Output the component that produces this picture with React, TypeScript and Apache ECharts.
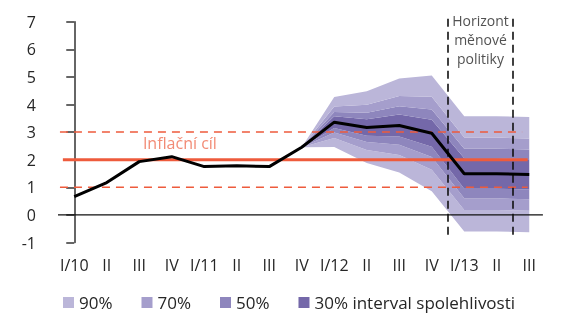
import React, { useEffect, useRef } from "react";
import * as echarts from "echarts";

const categories = ["I/10", "II", "III", "IV", "I/11", "II", "III", "IV", "I/12", "II", "III", "IV", "I/13", "II", "III"];
const inflation = [0.66, 1.17, 1.93, 2.11, 1.75, 1.78, 1.75, 2.45, 3.36, 3.17, 3.24, 2.96, 1.49, 1.49, 1.46];

const N = null;
const lower90 = [N, N, N, N, N, N, N, 2.45, 2.46, 1.88, 1.54, 0.86, -0.6, -0.6, -0.63];
const lower70 = [N, N, N, N, N, N, N, 2.45, 2.79, 2.35, 2.17, 1.64, 0.18, 0.18, 0.15];
const lower50 = [N, N, N, N, N, N, N, 2.45, 2.99, 2.64, 2.54, 2.1, 0.6, 0.6, 0.57];
const lower30 = [N, N, N, N, N, N, N, 2.45, 3.15, 2.87, 2.84, 2.47, 0.95, 0.95, 0.92];
const upper30 = [N, N, N, N, N, N, N, 2.45, 3.57, 3.47, 3.64, 3.45, 2.05, 2.05, 2.02];
const upper50 = [N, N, N, N, N, N, N, 2.45, 3.73, 3.7, 3.94, 3.82, 2.4, 2.4, 2.37];
const upper70 = [N, N, N, N, N, N, N, 2.45, 3.93, 3.99, 4.31, 4.28, 2.8, 2.8, 2.77];
const upper90 = [N, N, N, N, N, N, N, 2.45, 4.27, 4.48, 4.94, 5.05, 3.57, 3.57, 3.55];

const legendNames = ["90%", "70%", "50%", "30% interval spolehlivosti"];
const bandColors = ["#bbb6d9", "#a59ecc", "#8e86bd", "#7468a9"];

const target = 2;
const toleranceLow = 1;
const toleranceHigh = 3;
const horizonBounds = [11.5, 13.5];
const targetLabel = "Inflační cíl";
const horizonLabel = "Horizont\nměnové\npolitiky";

const FONT = "Open Sans";

function diff(a: (number | null)[], b: (number | null)[]) {
  return a.map((v, i) => (v == null || b[i] == null ? null : +((v as number) - (b[i] as number)).toFixed(3)));
}

function band(name: string, color: string, data: (number | null)[]) {
  return {
    name,
    type: "line",
    stack: "fan",
    stackStrategy: "all",
    xAxisIndex: 0,
    yAxisIndex: 0,
    data,
    symbol: "none",
    color,
    itemStyle: { color },
    lineStyle: { width: 0, opacity: 0 },
    areaStyle: { color, opacity: 1 },
    z: 1,
    silent: true,
  };
}

function refLine(data: number[][], color: string, width: number, type: any, z = 3) {
  return {
    type: "line",
    xAxisIndex: 1,
    yAxisIndex: 0,
    data,
    symbol: "none",
    clip: false,
    lineStyle: { color, width, type },
    z,
    silent: true,
  };
}

export default function App() {
  const ref = useRef<HTMLDivElement>(null);
  useEffect(() => {
    if (!ref.current) return;
    const chart = echarts.init(ref.current, null, { renderer: "svg" });
    const red = "#ee5b3c";
    const option: any = {
      animation: false,
      textStyle: { fontFamily: FONT },
      grid: { left: 58, top: 21.7, right: 15.5, bottom: 70.5, containLabel: false },
      legend: {
        data: legendNames,
        left: 63,
        top: 294,
        padding: 0,
        icon: "rect",
        itemWidth: 11,
        itemHeight: 11,
        itemGap: 29,
        textStyle: { fontFamily: FONT, fontSize: 17, lineHeight: 17, color: "#262626" },
        selectedMode: false,
      },
      xAxis: [
        {
          type: "category",
          data: categories,
          boundaryGap: true,
          axisLine: { show: false },
          axisTick: { show: false },
          axisLabel: { fontFamily: FONT, fontSize: 16, color: "#262626", margin: 14, interval: 0 },
          splitLine: { show: false },
        },
        {
          type: "value",
          min: -0.5,
          max: 14.5,
          show: false,
        },
      ],
      yAxis: {
        type: "value",
        min: -1,
        max: 7,
        interval: 1,
        axisLine: { show: true, lineStyle: { color: "#333", width: 1.5 } },
        axisTick: { show: true, length: 8, lineStyle: { color: "#333", width: 1.5 } },
        axisLabel: { fontFamily: FONT, fontSize: 16, color: "#262626", margin: 22 },
        splitLine: { show: false },
      },
      series: [
        {
          name: "base",
          type: "line",
          stack: "fan",
          stackStrategy: "all",
          data: lower90,
          symbol: "none",
          lineStyle: { width: 0, opacity: 0 },
          z: 1,
          silent: true,
        },
        band(legendNames[0], bandColors[0], diff(lower70, lower90)),
        band(legendNames[1], bandColors[1], diff(lower50, lower70)),
        band(legendNames[2], bandColors[2], diff(lower30, lower50)),
        band(legendNames[3], bandColors[3], diff(upper30, lower30)),
        band(legendNames[2], bandColors[2], diff(upper50, upper30)),
        band(legendNames[1], bandColors[1], diff(upper70, upper50)),
        band(legendNames[0], bandColors[0], diff(upper90, upper70)),
        refLine([[-0.5, 0], [14.42, 0]], "#111", 1.2, "solid"),
        refLine([[-0.35, target], [13.95, target]], red, 3, "solid"),
        refLine([[-0.44, toleranceLow], [13.95, toleranceLow]], red, 1.5, [8, 6]),
        refLine([[-0.44, toleranceHigh], [13.78, toleranceHigh]], red, 1.5, [8, 6]),
        refLine([[horizonBounds[0], -0.72], [horizonBounds[0], 7.13]], "#111", 1.6, [8, 5], 4),
        refLine([[horizonBounds[1], -0.72], [horizonBounds[1], 7.13]], "#111", 1.6, [8, 5], 4),
        {
          type: "line",
          xAxisIndex: 0,
          yAxisIndex: 0,
          data: inflation,
          symbol: "none",
          lineStyle: { color: "#000", width: 3 },
          z: 5,
          silent: true,
        },
        {
          type: "scatter",
          xAxisIndex: 1,
          yAxisIndex: 0,
          symbolSize: 0,
          silent: true,
          z: 6,
          data: [[3.25, 2.62]],
          label: {
            show: true,
            position: "inside",
            formatter: targetLabel,
            fontFamily: FONT,
            fontSize: 16,
            color: "#ef6e52",
          },
        },
        {
          type: "scatter",
          xAxisIndex: 1,
          yAxisIndex: 0,
          symbolSize: 0,
          silent: true,
          z: 6,
          clip: false,
          data: [[12.5, 6.36]],
          label: {
            show: true,
            position: "inside",
            formatter: horizonLabel,
            fontFamily: FONT,
            fontSize: 14,
            lineHeight: 19,
            align: "center",
            color: "#262626",
          },
        },
      ],
    };
    chart.setOption(option);
    return () => chart.dispose();
  }, []);
  return <div ref={ref} style={{ position: "fixed", left: 0, top: 0, width: 561, height: 313 }} />;
}
